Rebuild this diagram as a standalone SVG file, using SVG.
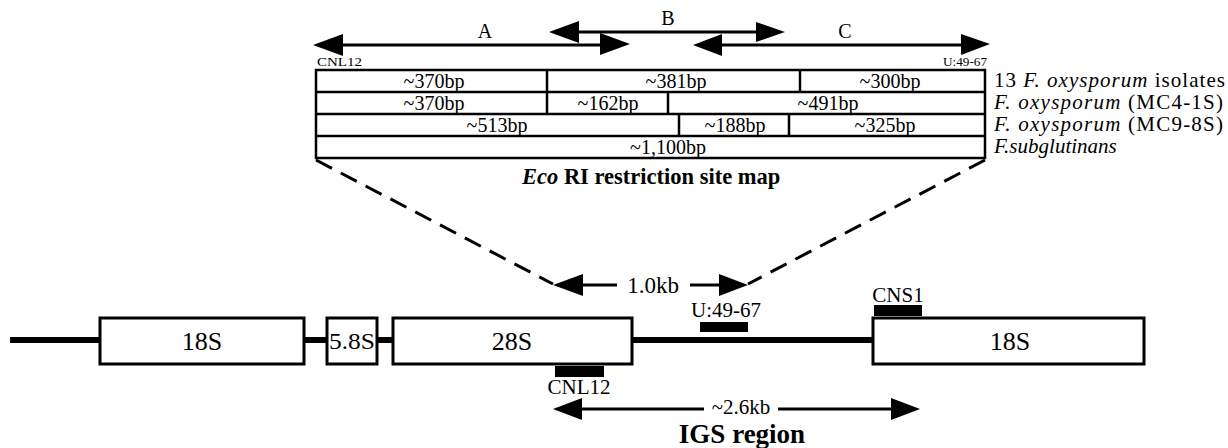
<svg xmlns="http://www.w3.org/2000/svg" width="1228" height="448" viewBox="0 0 1228 448">
<defs>
<style>
text{font-family:"Liberation Serif","Times New Roman",serif;fill:#000}
.t20{font-size:20px}
.t21{font-size:21px}
.c{text-anchor:middle}
.it{font-style:italic}
.small{font-size:12.5px}
.box{fill:#fff;stroke:#000;stroke-width:3}
.cell{fill:none;stroke:#000;stroke-width:2.5}
.ln{stroke:#000;stroke-width:3;fill:none}
.thick{stroke:#000;stroke-width:6;fill:none}
.dash{stroke:#000;stroke-width:3;fill:none;stroke-dasharray:18 10}
.bar{fill:#000}
.head{fill:#000}
</style>
</defs>

<!-- connectors -->
<g id="connectors">
  <!-- top arrows -->
  <line class="ln" x1="340" y1="45" x2="603" y2="45"/>
  <polygon class="head" points="313,45 343,34 343,56"/>
  <polygon class="head" points="630,44 600,33 600,55"/>
  <line class="ln" x1="575" y1="32" x2="760" y2="32"/>
  <polygon class="head" points="549,32 579,21 579,43"/>
  <polygon class="head" points="785,32 756,22 756,42"/>
  <line class="ln" x1="720" y1="45" x2="965" y2="45"/>
  <polygon class="head" points="693,45 722,34 722,56"/>
  <polygon class="head" points="990,44 961,34 961,55"/>
  <!-- dashed zoom lines -->
  <line class="dash" x1="316" y1="160" x2="553" y2="284"/>
  <line class="dash" x1="985" y1="160" x2="748" y2="284"/>
  <!-- 1.0kb arrow -->
  <line class="ln" x1="580" y1="285" x2="617" y2="285"/>
  <line class="ln" x1="690" y1="285" x2="722" y2="285"/>
  <polygon class="head" points="553,285 583,274 583,296"/>
  <polygon class="head" points="748,285 719,274 719,296"/>
  <!-- gene backbone -->
  <line class="thick" x1="10" y1="340" x2="100" y2="340"/>
  <line class="thick" x1="304" y1="340" x2="327" y2="340"/>
  <line class="thick" x1="377" y1="340" x2="393" y2="340"/>
  <line class="thick" x1="632" y1="340" x2="873" y2="340"/>
  <!-- 2.6kb arrow -->
  <line class="ln" x1="580" y1="409" x2="704" y2="409"/>
  <line class="ln" x1="778" y1="409" x2="895" y2="409"/>
  <polygon class="head" points="553,409 582,398 582,420"/>
  <polygon class="head" points="920,409 891,398 891,420"/>
</g>

<!-- top labels -->
<g id="top-labels">
  <text class="t20 c" x="485" y="38">A</text>
  <text class="t20 c" x="668" y="25">B</text>
  <text class="t20 c" x="845" y="38">C</text>
  <text class="small" x="317" y="66" textLength="45" lengthAdjust="spacingAndGlyphs">CNL12</text>
  <text class="small" x="943" y="66" textLength="44" lengthAdjust="spacingAndGlyphs">U:49-67</text>
</g>

<!-- restriction map table -->
<g id="restriction-map">
  <rect class="cell" x="316" y="70" width="669" height="88"/>
  <line class="cell" x1="316" y1="92" x2="985" y2="92"/>
  <line class="cell" x1="316" y1="114" x2="985" y2="114"/>
  <line class="cell" x1="316" y1="136" x2="985" y2="136"/>
  <line class="cell" x1="547" y1="70" x2="547" y2="114"/>
  <line class="cell" x1="800" y1="70" x2="800" y2="92"/>
  <line class="cell" x1="668" y1="92" x2="668" y2="114"/>
  <line class="cell" x1="679" y1="114" x2="679" y2="136"/>
  <line class="cell" x1="789" y1="114" x2="789" y2="136"/>
  <text class="t20 c" x="434" y="88">~370bp</text>
  <text class="t20 c" x="676" y="88">~381bp</text>
  <text class="t20 c" x="890" y="88">~300bp</text>
  <text class="t20 c" x="434" y="110">~370bp</text>
  <text class="t20 c" x="608" y="110">~162bp</text>
  <text class="t20 c" x="828" y="110">~491bp</text>
  <text class="t20 c" x="497" y="132">~513bp</text>
  <text class="t20 c" x="735" y="132">~188bp</text>
  <text class="t20 c" x="885" y="132">~325bp</text>
  <text class="t20 c" x="668" y="154">~1,100bp</text>
  <text style="font-size:22.5px;font-weight:bold" x="522" y="184"><tspan font-style="italic">Eco</tspan> RI restriction site map</text>
</g>

<!-- isolate labels -->
<g id="isolate-labels">
  <text class="t21" x="994" y="87" textLength="231" lengthAdjust="spacing">13 <tspan class="it">F. oxysporum</tspan> isolates</text>
  <text class="t21" x="994" y="109" textLength="229" lengthAdjust="spacing"><tspan class="it">F. oxysporum</tspan> (MC4-1S)</text>
  <text class="t21" x="994" y="131" textLength="229" lengthAdjust="spacing"><tspan class="it">F. oxysporum</tspan> (MC9-8S)</text>
  <text class="t21 it" x="994" y="153">F.subglutinans</text>
</g>

<!-- rDNA boxes -->
<g id="box-18S-left">
  <rect class="box" x="100" y="318" width="204" height="46"/>
  <text class="c" style="font-size:26px" x="202" y="350">18S</text>
</g>
<g id="box-5.8S">
  <rect class="box" x="327" y="318" width="50" height="46"/>
  <text class="c" style="font-size:24px" x="352" y="349" textLength="46" lengthAdjust="spacingAndGlyphs">5.8S</text>
</g>
<g id="box-28S">
  <rect class="box" x="393" y="318" width="239" height="46"/>
  <text class="c" style="font-size:26px" x="512" y="350">28S</text>
</g>
<g id="box-18S-right">
  <rect class="box" x="873" y="318" width="271" height="46"/>
  <text class="c" style="font-size:26px" x="1010" y="350">18S</text>
</g>

<!-- primers -->
<g id="primer-CNL12">
  <rect class="bar" x="555" y="366" width="49" height="11"/>
  <text class="t21 c" x="579" y="394">CNL12</text>
</g>
<g id="primer-U49-67">
  <rect class="bar" x="700" y="322" width="48" height="10"/>
  <text class="t21 c" x="726" y="317">U:49-67</text>
</g>
<g id="primer-CNS1">
  <rect class="bar" x="874" y="305" width="48" height="11"/>
  <text class="t21 c" x="898" y="302">CNS1</text>
</g>

<!-- size labels -->
<g id="size-labels">
  <text class="c" style="font-size:23px" x="653" y="293">1.0kb</text>
  <text class="c" style="font-size:21px" x="741" y="414">~2.6kb</text>
  <text class="c" style="font-size:27px;font-weight:bold" x="742" y="443">IGS region</text>
</g>
</svg>
